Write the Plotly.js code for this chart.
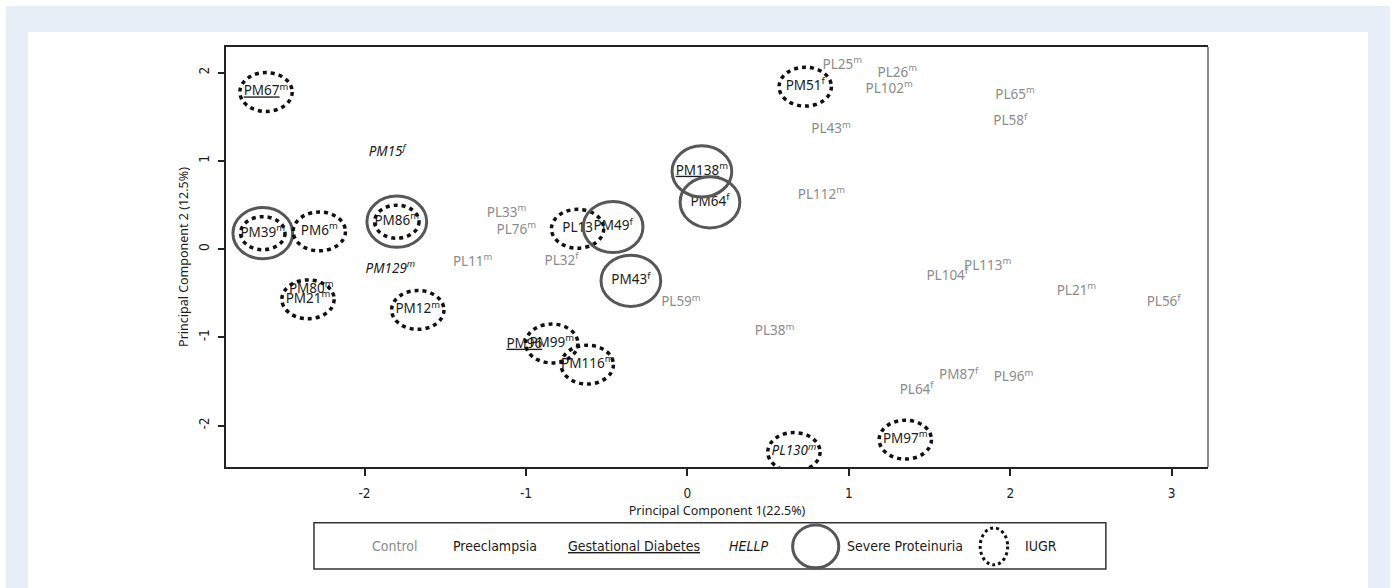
<!DOCTYPE html>
<html>
<head>
<meta charset="utf-8">
<script src="https://cdn.plot.ly/plotly-3.0.1.min.js"></script>
<style>
  html, body { margin: 0; padding: 0; background: #ffffff; width: 1391px; height: 588px; overflow: hidden; }
  #frame { position: absolute; left: 6px; top: 6px; width: 1384px; height: 582px; background: #e7eef8; }
  #chart { position: absolute; left: 28px; top: 32px; width: 1340px; height: 556px; background: #ffffff; }
</style>
</head>
<body>
<div id="frame"></div>
<div id="chart"></div>
<script>
// Sample labels and their principal component scores
const labels = ['PM67','PM15','PM39','PM6','PM86','PL33','PL76','PL13','PM49','PM138',
                'PM64','PM129','PL11','PL32','PM43','PL59','PM80','PM21','PM12','PM96',
                'PM99','PM116','PM51','PL25','PL26','PL102','PL65','PL58','PL43','PL112',
                'PL113','PL104','PL21','PL56','PL38','PL64','PM87','PL96','PL130','PM97'];
const pc1 = [-2.61,-1.86,-2.63,-2.28,-1.80,-1.12,-1.06,-0.68,-0.46,0.09,
             0.14,-1.84,-1.33,-0.78,-0.35,-0.04,-2.33,-2.35,-1.67,-1.01,
             -0.84,-0.62,0.73,0.96,1.30,1.25,2.03,2.00,0.89,0.83,
             1.86,1.61,2.41,2.95,0.54,1.42,1.68,2.02,0.66,1.35];
const pc2 = [1.78,1.09,0.18,0.20,0.31,0.40,0.21,0.23,0.25,0.88,
             0.53,-0.23,-0.15,-0.14,-0.36,-0.61,-0.46,-0.57,-0.69,-1.08,
             -1.07,-1.31,1.84,2.08,1.99,1.81,1.74,1.44,1.35,0.61,
             -0.20,-0.31,-0.48,-0.61,-0.94,-1.60,-1.44,-1.46,-2.30,-2.16];
const sex = ['m','f','m','m','m','m','m','','f','m',
             'f','m','m','f','f','m','m','m','m','',
             'm','m','f','m','m','m','m','f','m','m',
             'm','f','m','f','m','f','f','m','m','m'];
const group = ['GD','HELLP','P','P','P','C','C','P','P','GD',
               'P','HELLP','C','C','P','C','P','P','P','GD',
               'P','P','P','C','C','C','C','C','C','C',
               'C','C','C','C','C','C','C','C','HELLP','P'];
const severeProteinuria = [0,0,1,0,1,0,0,0,1,1,
                           1,0,0,0,1,0,0,0,0,0,
                           0,0,0,0,0,0,0,0,0,0,
                           0,0,0,0,0,0,0,0,0,0];
const iugr = [1,0,1,1,1,0,0,1,0,0,
              0,0,0,0,0,0,0,1,1,0,
              1,1,1,0,0,0,0,0,0,0,
              0,0,0,0,0,0,0,0,1,1];
const legendItems = ['Control','Preeclampsia','Gestational Diabetes','HELLP','Severe Proteinuria','IUGR'];
const xTitle = 'Principal Component 1(22.5%)';
const yTitle = 'Principal Component 2 (12.5%)';

const GRAY = '#8c8c8c', BLACK = '#1c1c1c';

const texts = labels.map((l, i) => {
  let base = l;
  if (group[i] === 'GD') base = '<u>' + base + '</u>';
  let s = base + (sex[i] ? '<sup>' + sex[i] + '</sup>' : '');
  if (group[i] === 'HELLP') s = '<i>' + s + '</i>';
  return s;
});
const colors = group.map(g => g === 'C' ? GRAY : BLACK);

const trace = {
  type: 'scatter', mode: 'text',
  x: pc1, y: pc2, text: texts,
  textposition: 'middle center',
  textfont: { family: 'Noto Sans, Open Sans, sans-serif', size: 13.5, color: colors },
  hoverinfo: 'skip', showlegend: false, cliponaxis: false
};

const shapes = [];
const SPW = 0.185, SPH = 0.29;
const IW = 0.162, IH = 0.22;
pc1.forEach((x, i) => {
  if (severeProteinuria[i]) {
    shapes.push({ type: 'circle', xref: 'x', yref: 'y',
      x0: x - SPW, x1: x + SPW, y0: pc2[i] - SPH, y1: pc2[i] + SPH,
      line: { color: '#575757', width: 3 } });
  }
  if (iugr[i]) {
    const k = severeProteinuria[i] ? 0.85 : 1;
    shapes.push({ type: 'circle', xref: 'x', yref: 'y',
      x0: x - IW * k, x1: x + IW * k, y0: pc2[i] - IH * k, y1: pc2[i] + IH * k,
      line: { color: '#111', width: 3.5, dash: '4px,4px' } });
  }
});

// right border of the frame: thinner and grey
shapes.push({ type: 'line', xref: 'paper', yref: 'paper', x0: 1, x1: 1, y0: 0, y1: 1,
  line: { color: '#666', width: 1.5 } });

// legend box (paper coordinates)
shapes.push({ type: 'rect', xref: 'paper', yref: 'paper', x0: 0.0896, x1: 0.896, y0: -0.243, y1: -0.133,
  line: { color: '#333', width: 1.5 } });
shapes.push({ type: 'circle', xref: 'paper', yref: 'paper', x0: 0.577, x1: 0.624, y0: -0.240, y1: -0.138,
  line: { color: '#575757', width: 3 } });
shapes.push({ type: 'circle', xref: 'paper', yref: 'paper', x0: 0.768, x1: 0.796, y0: -0.233, y1: -0.145,
  line: { color: '#111', width: 3, dash: '3px,3px' } });

const legFont = { family: 'Liberation Sans Narrow, DejaVu Sans Condensed, sans-serif', size: 14, color: BLACK };
const legPos = [0.172, 0.274, 0.415, 0.532, 0.691, 0.830];
const legText = [
  legendItems[0], legendItems[1], '<u>' + legendItems[2] + '</u>', '<i>' + legendItems[3] + '</i>',
  legendItems[4], legendItems[5]
];
const annotations = legText.map((t, i) => ({
  xref: 'paper', yref: 'paper', x: legPos[i], y: -0.188, text: t, showarrow: false,
  xanchor: 'center', yanchor: 'middle',
  font: Object.assign({}, legFont, { color: i === 0 ? GRAY : BLACK })
}));

const axisFont = { family: 'Liberation Sans Narrow, DejaVu Sans Condensed, sans-serif', size: 13.5, color: BLACK };
const layout = {
  width: 1340, height: 556,
  margin: { l: 198, r: 160, t: 15, b: 121 },
  paper_bgcolor: '#ffffff', plot_bgcolor: '#ffffff',
  xaxis: {
    range: [-2.858, 3.225], tickvals: [-2, -1, 0, 1, 2, 3], ticktext: ['-2','-1','0','1','2','3'],
    showgrid: false, zeroline: false,
    showline: true, linecolor: '#222', linewidth: 2, mirror: true,
    ticks: 'outside', ticklen: 7, tickwidth: 2, tickcolor: '#222',
    tickfont: axisFont, ticklabelstandoff: 6,
    title: { text: xTitle, font: { family: 'Noto Sans, Open Sans, sans-serif', size: 12.5, color: BLACK }, standoff: 6 }
  },
  yaxis: {
    range: [-2.47, 2.29], tickvals: [-2, -1, 0, 1, 2], ticktext: ['-2','-1','0','1','2'],
    showgrid: false, zeroline: false,
    showline: true, linecolor: '#222', linewidth: 2, mirror: false,
    ticks: 'outside', ticklen: 6, tickwidth: 2, tickcolor: '#222',
    tickangle: -90, tickfont: axisFont, ticklabelstandoff: 4,
    title: { text: yTitle, font: { family: 'Noto Sans, Open Sans, sans-serif', size: 12.5, color: BLACK }, standoff: 4 }
  },
  shapes: shapes,
  annotations: annotations,
  showlegend: false
};

Plotly.newPlot('chart', [trace], layout, { displayModeBar: false, staticPlot: true });
</script>
</body>
</html>
